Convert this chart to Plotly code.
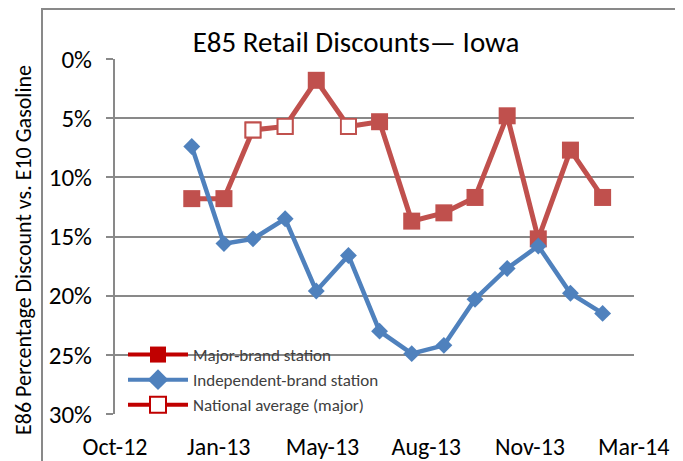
import plotly.graph_objects as go

# ---- data ----
months = ["2013-01-01", "2013-02-01", "2013-03-01", "2013-04-01", "2013-05-01",
          "2013-06-01", "2013-07-01", "2013-08-01", "2013-09-01", "2013-10-01",
          "2013-11-01", "2013-12-01", "2014-01-01", "2014-02-01"]
major_brand = [11.8, 11.8, 6.0, 5.7, 1.8, 5.7, 5.3, 13.7, 13.0, 11.7, 4.8, 15.2, 7.7, 11.7]
national_avg = [None, None, 6.0, 5.7, None, 5.7, None, None, None, None, None, None, None, None]
independent = [7.4, 15.6, 15.2, 13.5, 19.6, 16.6, 23.0, 24.9, 24.2, 20.3, 17.7, 15.8, 19.8, 21.5]
y_ticks = [0, 5, 10, 15, 20, 25, 30]
y_tick_labels = ["0%", "5%", "10%", "15%", "20%", "25%", "30%"]

FONT = "Carlito, Lato, sans-serif"
RED = "#C0504D"
BLUE = "#4F81BD"
LEG_RED = "#C00000"
GRID = "#898989"

fig = go.Figure()

# data traces
fig.add_trace(go.Scatter(x=months, y=major_brand, mode="lines+markers",
                         line=dict(color=RED, width=5),
                         marker=dict(symbol="square", size=17, color=RED),
                         showlegend=False))
fig.add_trace(go.Scatter(x=months, y=independent, mode="lines+markers",
                         line=dict(color=BLUE, width=4.5),
                         marker=dict(symbol="diamond", size=13, color=BLUE),
                         showlegend=False))
fig.add_trace(go.Scatter(x=months, y=national_avg, mode="markers",
                         marker=dict(symbol="square", size=15, color="white",
                                     line=dict(color=RED, width=1.8)),
                         showlegend=False))

# legend entries
fig.add_trace(go.Scatter(x=[None], y=[None], mode="lines+markers", name="Major-brand station",
                         line=dict(color=LEG_RED, width=4),
                         marker=dict(symbol="square", size=16, color=LEG_RED)))
fig.add_trace(go.Scatter(x=[None], y=[None], mode="lines+markers", name="Independent-brand station",
                         line=dict(color=BLUE, width=4),
                         marker=dict(symbol="diamond", size=16, color=BLUE)))
fig.add_trace(go.Scatter(x=[None], y=[None], mode="lines+markers", name="National average (major)",
                         line=dict(color=LEG_RED, width=4),
                         marker=dict(symbol="square", size=16, color="white",
                                     line=dict(color=LEG_RED, width=2))))

W, H = 683, 461
OFF = 8  # page body margin offset
# target plot area in screenshot pixels: x 115..634, y 59..414
L = 115 - OFF
T = 59 - OFF
R = W - (634 - OFF)
B = H - (414 - OFF)
pw, ph = W - L - R, H - T - B

def px_x(px):
    return (px - OFF - L) / pw

def px_y(py):
    return 1 - (py - OFF - T) / ph

fig.update_layout(
    width=W, height=H,
    margin=dict(l=L, r=R, t=T, b=B, autoexpand=False),
    paper_bgcolor="white", plot_bgcolor="white",
    font=dict(family=FONT, color="#000000"),
    title=dict(text="E85 Retail Discounts\u2014 Iowa", xref="container", x=(356 - OFF) / W,
               xanchor="center", yref="container", y=1 - (42 - OFF) / H, yanchor="middle",
               font=dict(family=FONT, size=29, color="#000000")),
    xaxis=dict(type="date", range=["2012-10-19", "2014-03-03 06:00"],
               tick0="2012-10-19", dtick=100 * 86400000, tickformat="%b-%y",
               showgrid=False, zeroline=False, showline=False, automargin=False,
               ticks="outside", ticklen=11, tickcolor="rgba(0,0,0,0)",
               tickfont=dict(family=FONT, size=24, color="#000000")),
    yaxis=dict(range=[30, 0], tickvals=y_ticks, ticktext=y_tick_labels,
               showgrid=True, gridcolor=GRID, gridwidth=2, automargin=False,
               zeroline=False, showline=True, linecolor=GRID, linewidth=2,
               ticks="outside", ticklen=7, tickwidth=2, tickcolor=GRID,
               ticklabelstandoff=9,
               tickfont=dict(family=FONT, size=25, color="#000000")),
    legend=dict(x=px_x(123), y=px_y(337), xanchor="left", yanchor="top",
                bgcolor="rgba(0,0,0,0)", itemwidth=60, tracegroupgap=0,
                font=dict(family=FONT, size=17, color="#404040")),
    shapes=[dict(type="rect", xref="paper", yref="paper",
                 x0=px_x(42), x1=1.3, y0=-0.3, y1=px_y(9),
                 line=dict(color=GRID, width=2), fillcolor="rgba(0,0,0,0)",
                 layer="below")],
    annotations=[dict(text="E86 Percentage Discount vs. E10 Gasoline", textangle=-90,
                      xref="paper", yref="paper", x=px_x(24), y=px_y(250),
                      xanchor="center", yanchor="middle", showarrow=False,
                      font=dict(family=FONT, size=22, color="#000000"))],
)

fig.write_html("out.html")
